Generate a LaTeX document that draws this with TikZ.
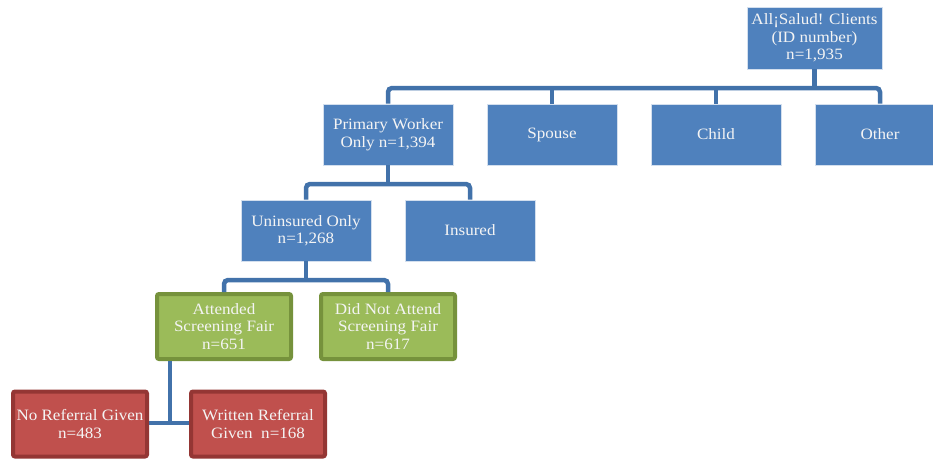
\documentclass[tikz,border=0pt]{standalone}
\usepackage{fontspec}
\setmainfont[FakeStretch=1.08]{Liberation Serif}
\definecolor{bluefill}{HTML}{4F81BD}
\definecolor{conn}{HTML}{4272AA}
\definecolor{greenfill}{HTML}{9BBB59}
\definecolor{greenline}{HTML}{76923C}
\definecolor{redfill}{HTML}{C0504D}
\definecolor{redline}{HTML}{943634}
\definecolor{txt}{HTML}{F4F4F4}
\tikzset{
  x=1pt,y=-1pt,
  box/.style={rectangle,inner sep=0pt,align=center,text=txt,
    font=\fontsize{15.8}{17.5}\selectfont},
  bluebox/.style={box,fill=bluefill,draw=white!75!bluefill,line width=0.8pt,
    minimum width=130pt,minimum height=61pt},
  greenbox/.style={box,fill=greenfill,draw=greenline,line width=4pt,rounded corners=2pt,
    minimum width=134pt,minimum height=65pt},
  redbox/.style={box,fill=redfill,draw=redline,line width=4pt,rounded corners=2pt,
    minimum width=134pt,minimum height=65pt},
  link/.style={draw=conn,line width=4.5pt,rounded corners=4pt},
}
\begin{document}
\begin{tikzpicture}
\clip (0,0) rectangle (933,459);
\useasboundingbox (0,0) rectangle (933,459);
\fill[white] (0,0) rectangle (933,459);
% coordinates for buses
\coordinate (b1) at (0,88);
\coordinate (b2) at (0,184);
\coordinate (b3) at (0,280);
\coordinate (j) at (170,423);
% nodes
\node[bluebox,minimum width=135pt,minimum height=62pt] (top) at (814.5,38) {All¡Salud! Clients\\(ID number)\\n=1,935};
\node[bluebox] (pw) at (388,134.5) {Primary Worker\\Only n=1,394};
\node[bluebox] (sp) at (552,134.5) {Spouse};
\node[bluebox] (ch) at (716,134.5) {Child};
\node[bluebox] (ot) at (880,134.5) {Other};
\node[bluebox] (un) at (306,230.5) {Uninsured Only\\n=1,268};
\node[bluebox] (in) at (470,230.5) {Insured};
\node[greenbox] (at) at (224,326.5) {Attended\\Screening Fair\\n=651};
\node[greenbox] (dn) at (388,326.5) {Did Not Attend\\Screening Fair\\n=617};
\node[redbox] (nr) at (80,424) {No Referral Given\\n=483};
\node[redbox] (wr) at (258,424) {Written Referral\\Given\ \ n=168};
% connectors
\path[link] (top.south) -- (top.south |- b1);
\path[link] (pw.north) -- (pw.north |- b1) -- (ot.north |- b1) -- (ot.north);
\path[link] (sp.north |- b1) -- (sp.north);
\path[link] (ch.north |- b1) -- (ch.north);
\path[link] (pw.south) -- (pw.south |- b2);
\path[link] (un.north) -- (un.north |- b2) -- (in.north |- b2) -- (in.north);
\path[link] (un.south) -- (un.south |- b3);
\path[link] (at.north) -- (at.north |- b3) -- (dn.north |- b3) -- (dn.north);
\path[link,rounded corners=0pt] (at.south -| j) -- (j);
\path[link,rounded corners=0pt] (nr.east |- j) -- (wr.west |- j);
\end{tikzpicture}
\end{document}
